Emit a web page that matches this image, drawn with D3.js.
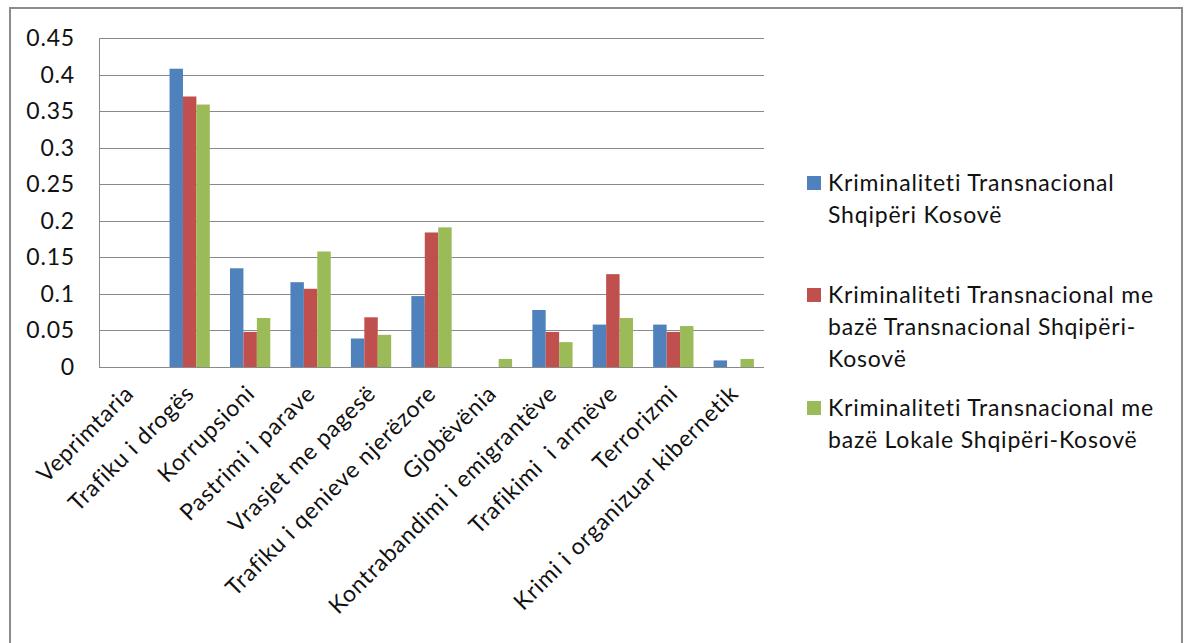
<!DOCTYPE html>
<html>
<head>
<meta charset="utf-8">
<script src="https://cdn.jsdelivr.net/npm/d3@7"></script>
<style>
	body { margin: 0; background: #fff; }
	svg { display: block; font-family: Lato, 'Open Sans', sans-serif; }
</style>
</head>
<body>
<div id="chart"></div>
<script>
const categories = [
	'Veprimtaria',
	'Trafiku i drogës',
	'Korrupsioni',
	'Pastrimi i parave',
	'Vrasjet me pagesë',
	'Trafiku i qenieve njerëzore',
	'Gjobëvënia',
	'Kontrabandimi i emigrantëve',
	'Trafikimi  i armëve',
	'Terrorizmi',
	'Krimi i organizuar kibernetik'
];

const seriesNames = [
	['Kriminaliteti Transnacional', 'Shqipëri Kosovë'],
	['Kriminaliteti Transnacional me', 'bazë Transnacional Shqipëri-', 'Kosovë'],
	['Kriminaliteti Transnacional me', 'bazë Lokale Shqipëri-Kosovë']
];

const transnacional = [0, 0.408, 0.135, 0.116, 0.039, 0.097, 0, 0.078, 0.058, 0.058, 0.009];
const bazeTransnacional = [0, 0.37, 0.048, 0.107, 0.068, 0.184, 0, 0.048, 0.127, 0.048, 0];
const bazeLokale = [0, 0.359, 0.067, 0.158, 0.044, 0.191, 0.011, 0.034, 0.067, 0.056, 0.011];

const yTicks = [0, 0.05, 0.1, 0.15, 0.2, 0.25, 0.3, 0.35, 0.4, 0.45];
const colors = ['#4F81BD', '#C0504D', '#9BBB59'];

const allSeries = [transnacional, bazeTransnacional, bazeLokale];

const W = 1184, H = 643;
const plot = { left: 99, right: 764, top: 38, bottom: 367 };
const fontSize = '23px';
const spacing = '0.8px';

const svg = d3.select('#chart')
	.append('svg')
	.attr('width', W)
	.attr('height', H);

// outer frame
svg.append('rect')
	.attr('x', 10)
	.attr('y', 8)
	.attr('width', 1172)
	.attr('height', 660)
	.style('fill', 'none')
	.style('stroke', '#8c8c8c')
	.style('stroke-width', 2);

const xScale = d3.scaleBand()
	.domain(categories)
	.range([plot.left, plot.right])
	.paddingInner(0)
	.paddingOuter(0);

// gap width 150% like the original
const groupWidth = xScale.bandwidth() * 3 / 4.5;

const xInner = d3.scaleBand()
	.domain([0, 1, 2])
	.range([0, groupWidth]);

const yScale = d3.scaleLinear()
	.domain([0, 0.45])
	.range([plot.bottom, plot.top]);

// gridlines
svg.append('g')
	.selectAll('line')
	.data(yTicks)
	.join('line')
	.attr('x1', plot.left)
	.attr('x2', plot.right)
	.attr('y1', (d) => Math.round(yScale(d)) + 0.5)
	.attr('y2', (d) => Math.round(yScale(d)) + 0.5)
	.style('stroke', '#8a8a8a')
	.style('stroke-width', 1);

// y axis labels
svg.append('g')
	.selectAll('text')
	.data(yTicks)
	.join('text')
	.attr('x', 75)
	.attr('y', (d) => yScale(d))
	.attr('dy', '0.35em')
	.attr('text-anchor', 'end')
	.style('font-size', fontSize)
	.style('letter-spacing', spacing)
	.style('fill', '#111')
	.text((d) => d3.format('~g')(d));

// bars
const groups = svg.append('g')
	.selectAll('g')
	.data(categories)
	.join('g')
	.attr('transform', (d) => `translate(${xScale(d) + (xScale.bandwidth() - groupWidth) / 2}, 0)`);

groups.selectAll('rect')
	.data((d, i) => allSeries.map((s, k) => ({ k: k, v: s[i] })))
	.join('rect')
	.attr('x', (d) => xInner(d.k))
	.attr('width', xInner.bandwidth())
	.attr('y', (d) => yScale(d.v))
	.attr('height', (d) => plot.bottom - yScale(d.v))
	.style('fill', (d) => colors[d.k]);

// left axis line
svg.append('line')
	.attr('x1', plot.left + 0.5)
	.attr('x2', plot.left + 0.5)
	.attr('y1', plot.top)
	.attr('y2', plot.bottom)
	.style('stroke', '#8a8a8a');

// x labels
svg.append('g')
	.selectAll('text')
	.data(categories)
	.join('text')
	.attr('transform', (d) => `translate(${xScale(d) + xScale.bandwidth() / 2 + 6}, ${plot.bottom + 28}) rotate(-45)`)
	.attr('text-anchor', 'end')
	.style('font-size', fontSize)
	.style('letter-spacing', spacing)
	.style('fill', '#111')
	.style('white-space', 'pre')
	.text((d) => d);

// legend
const legendTops = [191, 303, 416];
const legend = svg.append('g')
	.selectAll('g')
	.data(seriesNames)
	.join('g')
	.attr('transform', (d, i) => `translate(807, ${legendTops[i]})`);

legend.append('rect')
	.attr('x', 0)
	.attr('y', -15)
	.attr('width', 14)
	.attr('height', 14)
	.style('fill', (d, i) => colors[i]);

legend.append('text')
	.attr('x', 21)
	.style('font-size', fontSize)
	.style('letter-spacing', spacing)
	.style('fill', '#111')
	.selectAll('tspan')
	.data((d) => d)
	.join('tspan')
	.attr('x', 21)
	.attr('y', (d, j) => j * 32)
	.text((d) => d);
</script>
</body>
</html>
